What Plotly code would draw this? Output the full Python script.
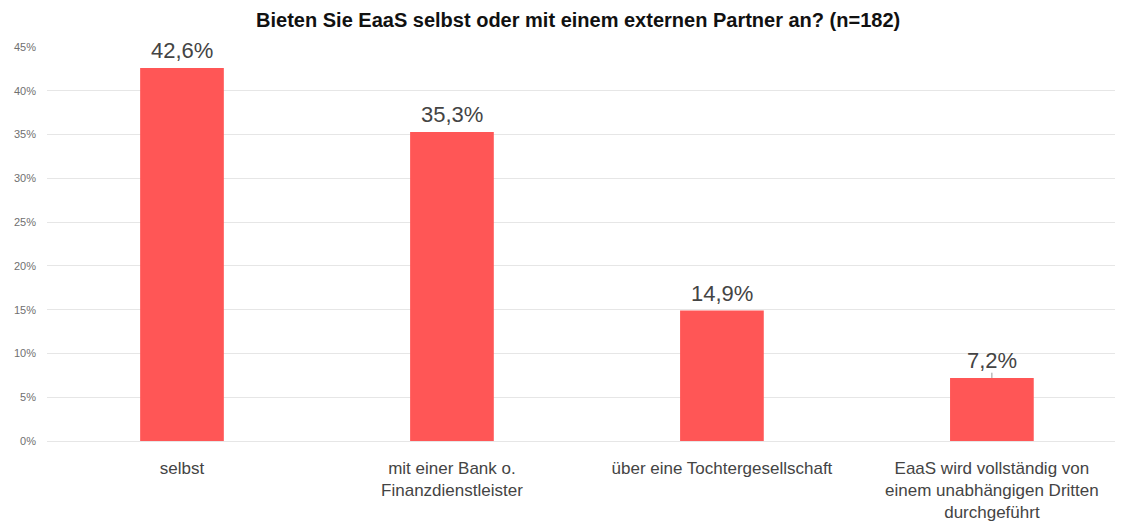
import plotly.graph_objects as go

# Survey answers and shares (percent)
categories = [
    "selbst",
    "mit einer Bank o.<br>Finanzdienstleister",
    "über eine Tochtergesellschaft",
    "EaaS wird vollständig von<br>einem unabhängigen Dritten<br>durchgeführt",
]
shares = [42.6, 35.3, 14.9, 7.2]
value_labels = ["42,6%", "35,3%", "14,9%", "7,2%"]
y_ticks = [0, 5, 10, 15, 20, 25, 30, 35, 40, 45]

bar_color = "#FF5656"
font_family = "Liberation Sans, Arial, sans-serif"

fig = go.Figure(
    go.Bar(
        x=list(range(len(categories))),
        y=shares,
        width=0.31,
        marker=dict(color=bar_color, line=dict(width=0)),
        hoverinfo="skip",
    )
)

# Value labels above each bar
for i, (v, lab) in enumerate(zip(shares, value_labels)):
    fig.add_annotation(
        x=i, y=v, text=lab, showarrow=False,
        yanchor="bottom", yshift=3,
        font=dict(family=font_family, size=22, color="#444444"),
    )

# Small leader line for the smallest bar label
fig.add_shape(
    type="line", x0=3, x1=3, y0=shares[3], y1=shares[3] + 0.6,
    line=dict(color="#999999", width=1), layer="above",
)

fig.update_layout(
    width=1127, height=523,
    margin=dict(l=47, r=12, t=47, b=82, autoexpand=False),
    paper_bgcolor="white", plot_bgcolor="white",
    font=dict(family=font_family),
    title=dict(
        text="<b>Bieten Sie EaaS selbst oder mit einem externen Partner an? (n=182)</b>",
        x=0.513, xanchor="center", y=0.962, yanchor="middle",
        font=dict(family=font_family, size=20, color="#111111"),
    ),
    showlegend=False,
    bargap=0.69,
)

fig.update_xaxes(
    tickmode="array",
    tickvals=list(range(len(categories))),
    ticktext=categories,
    range=[-0.5, 3.456],
    automargin=False,
    showgrid=False, zeroline=False, showline=False,
    ticks="", ticklen=0,
    ticklabelstandoff=15,
    tickfont=dict(family=font_family, size=17, color="#444444"),
)

fig.update_yaxes(
    range=[0, 45],
    tickmode="array",
    tickvals=y_ticks,
    ticktext=[f"{t}%" for t in y_ticks],
    automargin=False,
    showgrid=True, gridcolor="#E6E6E6", gridwidth=1,
    zeroline=True, zerolinecolor="#E6E6E6", zerolinewidth=1,
    showline=False, ticks="",
    ticklabelstandoff=10,
    tickfont=dict(family=font_family, size=11, color="#707070"),
)

fig.write_html("out.html")
